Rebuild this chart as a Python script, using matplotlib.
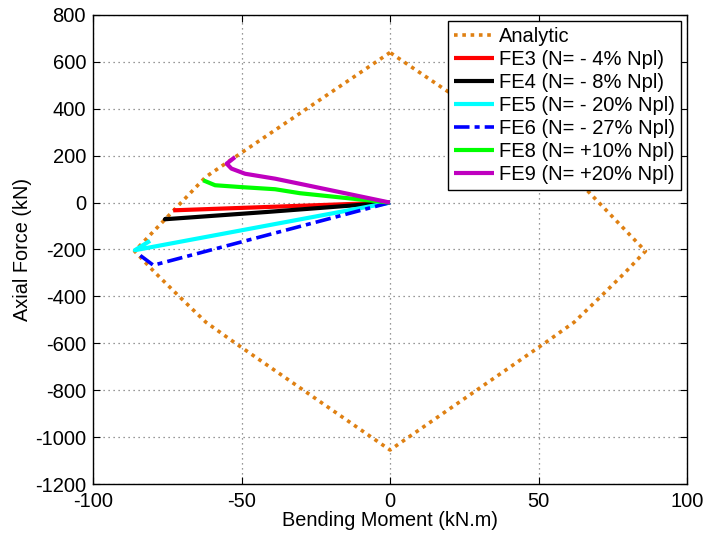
import matplotlib
matplotlib.use("Agg")
import matplotlib.pyplot as plt

plt.rcParams['font.family'] = ['Liberation Sans', 'DejaVu Sans']
plt.rcParams['axes.unicode_minus'] = False

# Analytic interaction curve (M in kN.m, N in kN)
analytic_M = [0, -62, -86, -79, -71, -62, -52, 0, 52, 62, 71, 79, 86, 62, 0]
analytic_N = [640, 110, -207, -300, -400, -510, -600, -1055, -600, -510, -400, -300, -207, 110, 640]

fe3_M = [0, -73]
fe3_N = [0, -33]

fe4_M = [0, -41.5, -75.8, -75.0]
fe4_N = [0, -40, -71, -67]

fe5_M = [0, -85.9, -80.8]
fe5_N = [0, -203, -163]

fe6_M = [0, -79.7, -85.3]
fe6_N = [0, -267, -214]

fe8_M = [0, -30.3, -38.7, -50, -58.9, -62.9]
fe8_N = [0, 40, 57, 66, 74, 95]

fe9_M = [0, -28, -38.7, -48.8, -53.4, -55, -52.2]
fe9_N = [0, 74, 102, 123, 145, 166, 194]

labels = ['Analytic', 'FE3 (N= - 4% Npl)', 'FE4 (N= - 8% Npl)', 'FE5 (N= - 20% Npl)',
          'FE6 (N= - 27% Npl)', 'FE8 (N= +10% Npl)', 'FE9 (N= +20% Npl)']

fig = plt.figure(figsize=(7.09, 5.35), dpi=100)
ax = fig.add_axes([0.1312, 0.0953, 0.969 - 0.1312, 0.972 - 0.0953])

orange = '#DF8012'
ax.plot(analytic_M, analytic_N, color=orange, lw=2.6, linestyle=(0, (1, 1.3)), label=labels[0])
ax.plot(fe3_M, fe3_N, color='#FF0000', lw=3, label=labels[1], solid_capstyle='butt')
ax.plot(fe4_M, fe4_N, color='#000000', lw=3, label=labels[2], solid_capstyle='butt')
ax.plot(fe5_M, fe5_N, color='#00FFFF', lw=3, label=labels[3], solid_capstyle='butt')
ax.plot(fe6_M, fe6_N, color='#0000FF', lw=2.6, linestyle=(0, (4.3, 1.4, 1.4, 1.4)), label=labels[4])
ax.plot(fe8_M, fe8_N, color='#00FF00', lw=3, label=labels[5], solid_capstyle='butt')
ax.plot(fe9_M, fe9_N, color='#BF00BF', lw=3, label=labels[6], solid_capstyle='butt')

ax.set_xlim(-100, 100)
ax.set_ylim(-1200, 800)
ax.set_xticks([-100, -50, 0, 50, 100])
ax.set_yticks(list(range(-1200, 801, 200)))
ax.tick_params(direction='in', top=True, right=True, length=5, width=0.8, labelsize=14.5)
ax.tick_params(axis='x', pad=5.5)
ax.tick_params(axis='y', pad=5)
ax.grid(True, linestyle=(0, (1, 3)), color='#777777', lw=0.9)
for s in ax.spines.values():
    s.set_linewidth(1.0)

ax.set_xlabel('Bending Moment (kN.m)', fontsize=14.3, labelpad=0.5)
ax.set_ylabel('Axial Force (kN)', fontsize=14.3, labelpad=2)

leg = ax.legend(loc='upper right', fontsize=14.5, fancybox=False, edgecolor='black',
                framealpha=1, handlelength=2.0, handletextpad=0.25, borderpad=0.3,
                labelspacing=0.2, borderaxespad=0.3)
leg.get_frame().set_linewidth(1.0)

fig.savefig('out.png', dpi=100)
